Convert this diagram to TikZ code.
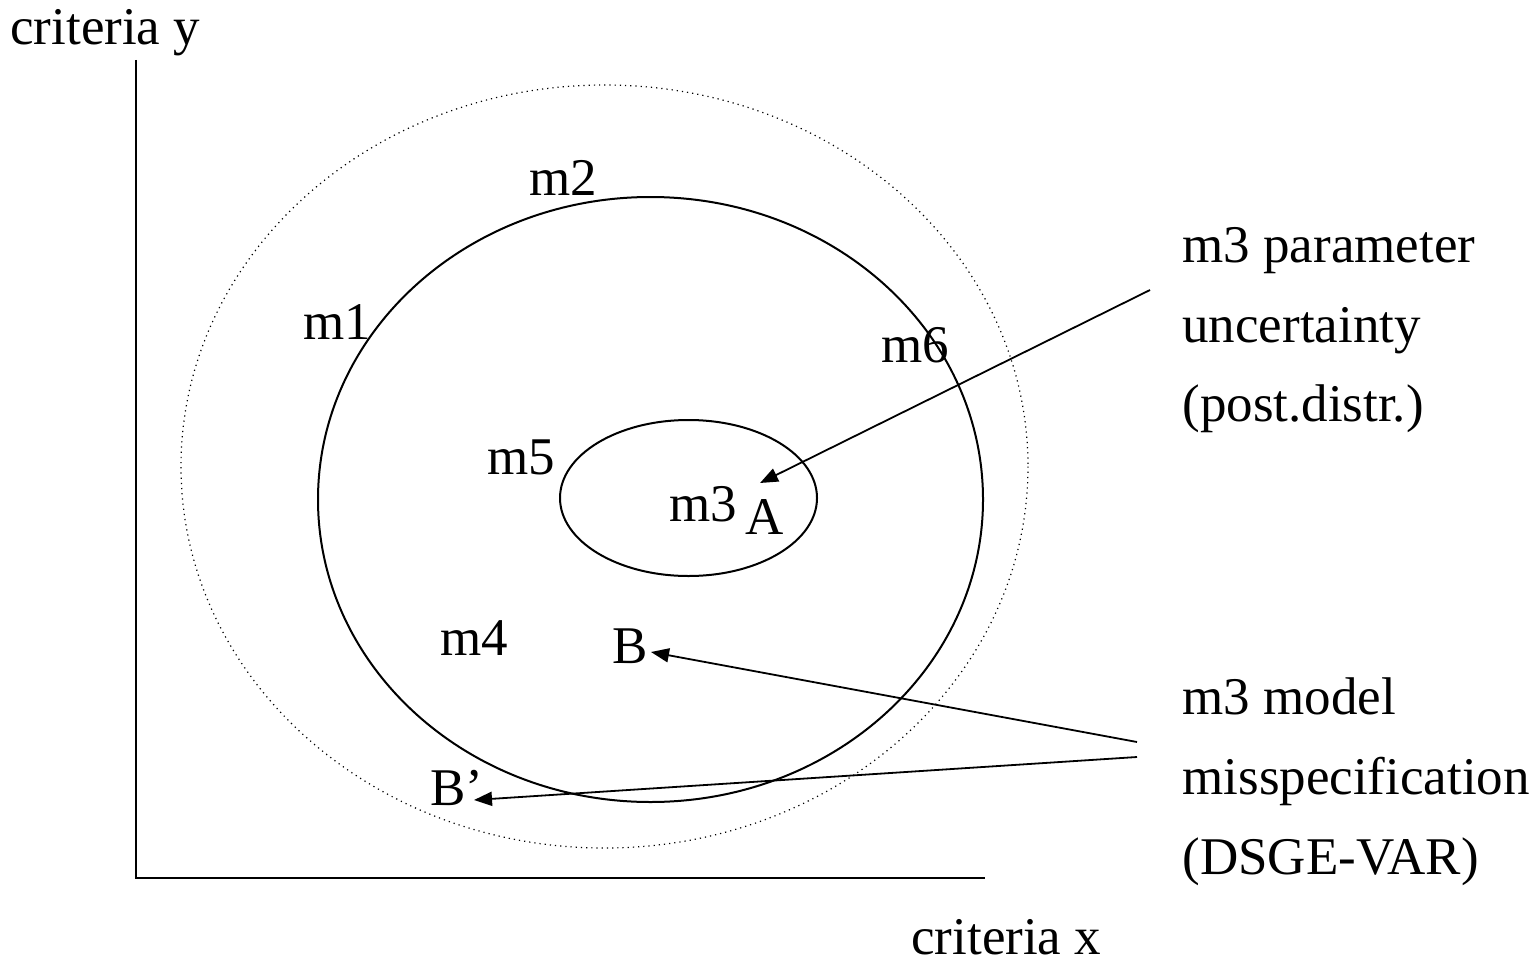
\documentclass[tikz,border=0pt]{standalone}
\usepackage{fontspec}
\setmainfont{Liberation Serif}
\usetikzlibrary{arrows.meta}
\begin{document}
\begin{tikzpicture}[x=0.5pt,y=-0.5pt,
  lbl/.style={anchor=base west,inner sep=0pt,font=\fontsize{26.5}{31}\selectfont},
  ax/.style={line width=0.8pt},
  ell/.style={line width=1pt},
  arr/.style={line width=0.9pt,-{Triangle[length=9pt,width=7pt]}}]
\useasboundingbox (0,0) rectangle (1535,963);
% axes
\coordinate (ytop) at (136,60);
\coordinate (orig) at (136,878);
\coordinate (xend) at (985,878);
\draw[ax] (ytop) -- (orig) -- (xend);
% ellipses
\draw[dotted,line width=0.6pt] (604.5,466.5) ellipse [x radius=423.5, y radius=381.5];
\draw[ell] (650.5,499.5) ellipse [x radius=332.5, y radius=302.5];
\draw[ell] (688.5,498) ellipse [x radius=128.5, y radius=78];
% labels
\node[lbl] (cy) at (10,45) {criteria y};
\node[lbl] (cx) at (911,954) {criteria x};
\node[lbl] (m2) at (529,195) {m2};
\node[lbl] (m1) at (303,339) {m1};
\node[lbl] (m6) at (881,362) {m6};
\node[lbl] (m5) at (487,474) {m5};
\node[lbl] (m3) at (669,521) {m3};
\node[lbl] (A) at (745,534) {A};
\node[lbl] (m4) at (440,655) {m4};
\node[lbl] (B) at (612,663) {B};
\node[lbl] (Bp) at (430,805) {B’};
\node[lbl] (t1) at (1182,262) {m3 parameter};
\node[lbl] (t2) at (1182,342) {uncertainty};
\node[lbl] (t3) at (1182,421) {(post.distr.)};
\node[lbl] (t4) at (1182,714) {m3 model};
\node[lbl] (t5) at (1182,794) {misspecification};
\node[lbl] (t6) at (1182,874) {(DSGE-VAR)};
% arrows
\coordinate (s1) at (1150,290);
\coordinate (e1) at (760,483);
\coordinate (s2) at (1137,742);
\coordinate (e2) at (651,652);
\coordinate (s3) at (1137,757);
\coordinate (e3) at (474,800);
\draw[arr] (s1) -- (e1);
\draw[arr] (s2) -- (e2);
\draw[arr] (s3) -- (e3);
\end{tikzpicture}
\end{document}
